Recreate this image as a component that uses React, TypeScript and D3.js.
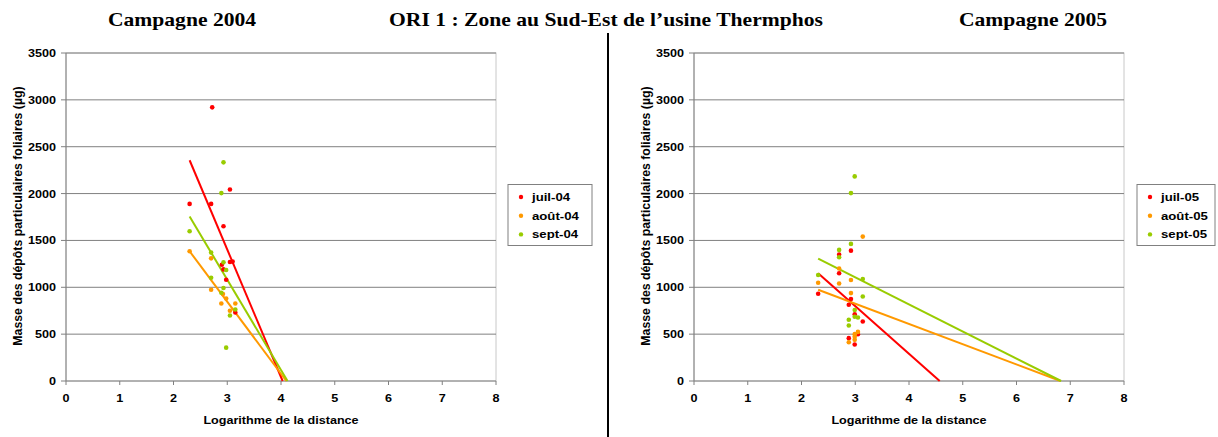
import React from "react"
import * as d3 from "d3"

const WIDTH = 1218
const HEIGHT = 437
// the source picture is stretched sideways, text is scaled to match
const STRETCH = 1.2

const xTicks = [0, 1, 2, 3, 4, 5, 6, 7, 8]
const yTicks = [0, 500, 1000, 1500, 2000, 2500, 3000, 3500]
const colors = ["#ff0000", "#ff9900", "#99cc00"]

// Campagne 2004
const names2004 = ["juil-04", "août-04", "sept-04"]
const juil04X = [2.72, 2.3, 2.7, 3.05, 2.93, 3.05, 3.1, 2.9, 2.93, 2.98, 3.15]
const juil04Y = [2920, 1890, 1890, 2044, 1651, 1270, 1274, 1241, 1191, 1081, 731]
const aout04X = [2.3, 2.7, 2.7, 2.89, 2.92, 2.98, 3.05, 3.15]
const aout04Y = [1384, 1309, 974, 827, 928, 881, 749, 827]
const sept04X = [2.93, 2.89, 2.3, 2.7, 2.93, 2.98, 2.7, 2.93, 2.89, 3.15, 3.05, 2.98]
const sept04Y = [2333, 2005, 1598, 1370, 1266, 1185, 1102, 992, 942, 763, 699, 356]
// trend lines: slope / intercept
const trend2004Slope = [-1361, -769, -964]
const trend2004Intercept = [5486, 3153, 3973]

// Campagne 2005
const names2005 = ["juil-05", "août-05", "sept-05"]
const juil05X = [2.92, 2.7, 2.7, 2.31, 2.92, 2.88, 2.99, 3.14, 3.05, 2.88, 2.99]
const juil05Y = [1391, 1349, 1149, 931, 874, 813, 713, 635, 500, 457, 389]
const aout05X = [3.14, 2.7, 2.31, 2.7, 2.92, 2.92, 2.99, 2.99, 2.99, 2.88, 3.05]
const aout05Y = [1541, 1200, 1049, 1041, 1077, 938, 500, 471, 439, 414, 524]
const sept05X = [2.99, 2.92, 2.92, 2.7, 2.7, 2.31, 3.14, 3.14, 2.99, 2.99, 3.05, 2.88, 2.88]
const sept05Y = [2183, 2005, 1463, 1399, 1320, 1131, 1088, 902, 757, 685, 678, 653, 592]
const trend2005Slope = [-508, -216, -289]
const trend2005Intercept = [2322, 1473, 1974]

interface Series {
    name: string
    color: string
    xs: number[]
    ys: number[]
    slope: number
    intercept: number
}

const build = (names: string[], xs: number[][], ys: number[][], slopes: number[], intercepts: number[]): Series[] =>
    names.map((name, i) => ({
        name,
        color: colors[i],
        xs: xs[i],
        ys: ys[i],
        slope: slopes[i],
        intercept: intercepts[i],
    }))

const series2004 = build(names2004, [juil04X, aout04X, sept04X], [juil04Y, aout04Y, sept04Y], trend2004Slope, trend2004Intercept)
const series2005 = build(names2005, [juil05X, aout05X, sept05X], [juil05Y, aout05Y, sept05Y], trend2005Slope, trend2005Intercept)

const SANS = "'Liberation Sans', Arial, sans-serif"
const SERIF = "'Liberation Serif', 'Times New Roman', serif"

const T: React.FC<{
    x: number
    y: number
    size: number
    anchor?: "start" | "middle" | "end"
    rotate?: number
    stretch?: number
    serif?: boolean
    children: React.ReactNode
}> = ({ x, y, size, anchor = "start", rotate = 0, stretch = STRETCH, serif = false, children }) => (
    <text
        transform={`translate(${x},${y}) scale(${stretch},1) rotate(${rotate})`}
        textAnchor={anchor}
        fontFamily={serif ? SERIF : SANS}
        fontWeight="bold"
        fontSize={size}
        fill="#000"
    >
        {children}
    </text>
)

const TOP = 53
const BOTTOM = 381

const Panel: React.FC<{ left: number; right: number; series: Series[]; legendX: number; legendW: number }> = ({
    left,
    right,
    series,
    legendX,
    legendW,
}) => {
    const x = d3.scaleLinear().domain([0, 8]).range([left, right])
    const y = d3.scaleLinear().domain([0, 3500]).range([BOTTOM, TOP])

    return (
        <g>
            {/* plot frame */}
            <rect x={left} y={TOP} width={right - left} height={BOTTOM - TOP} fill="none" stroke="#c8c8c8" />
            {/* grid */}
            {yTicks.slice(1).map(t => (
                <line key={t} x1={left} x2={right} y1={y(t)} y2={y(t)} stroke="#808080" strokeWidth={1} />
            ))}
            {/* axes */}
            <line x1={left} x2={left} y1={TOP} y2={BOTTOM} stroke="#808080" />
            <line x1={left} x2={right} y1={BOTTOM} y2={BOTTOM} stroke="#808080" />
            {yTicks.map(t => (
                <g key={t}>
                    <line x1={left - 5} x2={left} y1={y(t)} y2={y(t)} stroke="#808080" />
                    <T x={left - 10} y={y(t) + 4} size={10.5} anchor="end">
                        {t}
                    </T>
                </g>
            ))}
            {xTicks.map(t => (
                <g key={t}>
                    <line x1={x(t)} x2={x(t)} y1={BOTTOM} y2={BOTTOM + 4} stroke="#808080" />
                    <T x={x(t)} y={402} size={10.5} anchor="middle">
                        {t}
                    </T>
                </g>
            ))}
            <T x={(left + right) / 2} y={424} size={10.5} anchor="middle">
                Logarithme de la distance
            </T>
            <T x={left - 44} y={(TOP + BOTTOM) / 2 - 1} size={12.3} anchor="middle" rotate={-90} stretch={1.05}>
                Masse des dépôts particulaires foliaires (µg)
            </T>

            {/* trend lines */}
            {series.map(s => {
                const x0 = d3.min(s.xs)!
                const x1 = -s.intercept / s.slope
                return (
                    <line
                        key={s.name}
                        x1={x(x0)}
                        y1={y(s.slope * x0 + s.intercept)}
                        x2={x(x1)}
                        y2={y(0)}
                        stroke={s.color}
                        strokeWidth={2}
                    />
                )
            })}
            {/* points */}
            {series.map(s =>
                s.xs.map((v, i) => <circle key={s.name + i} cx={x(v)} cy={y(s.ys[i])} r={2.3} fill={s.color} />)
            )}

            {/* legend */}
            <rect x={legendX} y={184.5} width={legendW} height={61} fill="#fff" stroke="#808080" />
            {series.map((s, i) => (
                <g key={s.name}>
                    <circle cx={legendX + 13} cy={197 + i * 18.7} r={2.2} fill={s.color} />
                    <T x={legendX + 24} y={201 + i * 18.7} size={11}>
                        {s.name}
                    </T>
                </g>
            ))}
        </g>
    )
}

const App: React.FC = () => (
    <svg
        width={WIDTH}
        height={HEIGHT}
        style={{ position: "absolute", left: 0, top: 0, background: "#fff" }}
    >
        <rect width={WIDTH} height={HEIGHT} fill="#fff" />
        <T x={182} y={26} size={18} anchor="middle" serif>
            Campagne 2004
        </T>
        <T x={606} y={26} size={18} anchor="middle" serif>
            ORI 1 : Zone au Sud-Est de l’usine Thermphos
        </T>
        <T x={1033} y={26} size={18} anchor="middle" serif>
            Campagne 2005
        </T>
        <line x1={608} x2={608} y1={33} y2={HEIGHT} stroke="#000" strokeWidth={2} />
        <Panel left={66} right={496} series={series2004} legendX={508} legendW={84} />
        <Panel left={694} right={1124} series={series2005} legendX={1137} legendW={78} />
    </svg>
)

export default App
